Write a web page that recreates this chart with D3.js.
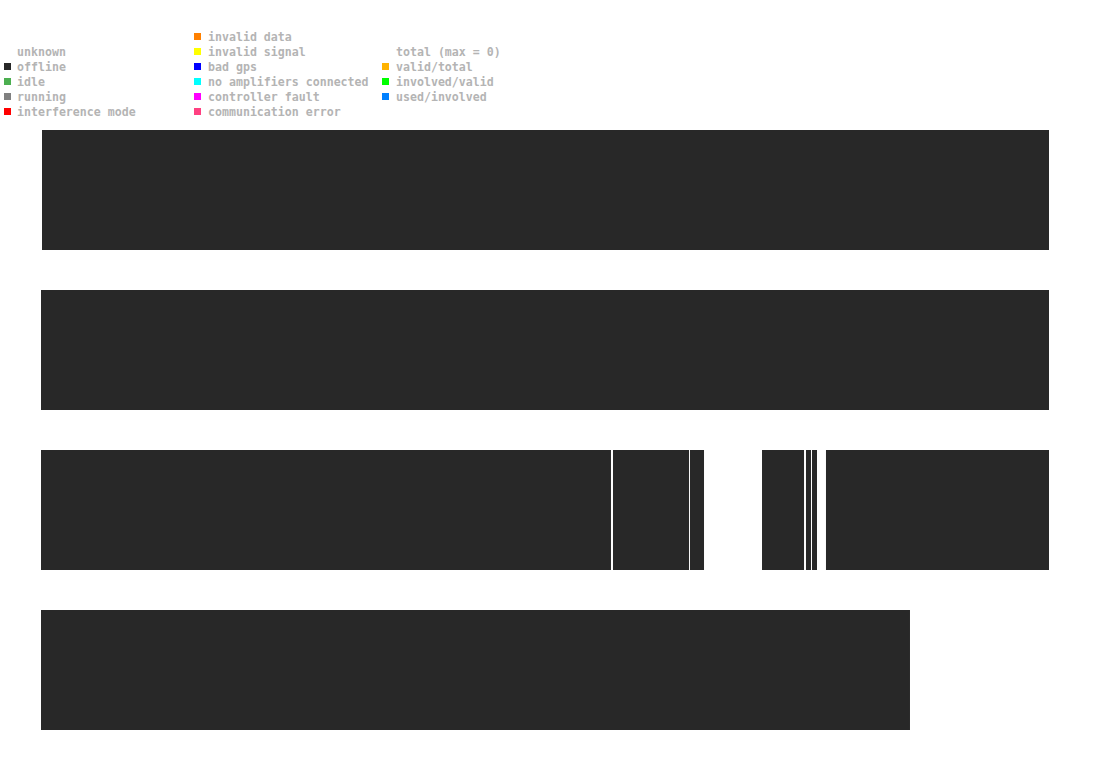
<!DOCTYPE html>
<html><head><meta charset="utf-8">
<script src="https://cdn.jsdelivr.net/npm/d3@7"></script>
<style>body{margin:0;background:#fff}</style>
</head><body>
<svg id="c" width="1095" height="764"></svg>
<script>
// legend entries
const legendCol1 = [
  {label: "unknown", color: null},
  {label: "offline", color: "#282828"},
  {label: "idle", color: "#4caf50"},
  {label: "running", color: "#808080"},
  {label: "interference mode", color: "#ff0000"}
];
const legendCol2 = [
  {label: "invalid data", color: "#ff8000"},
  {label: "invalid signal", color: "#ffff00"},
  {label: "bad gps", color: "#0000ff"},
  {label: "no amplifiers connected", color: "#00ffff"},
  {label: "controller fault", color: "#ff00ff"},
  {label: "communication error", color: "#ff4081"}
];
const legendCol3 = [
  {label: "total (max = 0)", color: null},
  {label: "valid/total", color: "#ffb300"},
  {label: "involved/valid", color: "#00ff00"},
  {label: "used/involved", color: "#0080ff"}
];
// status rows: segments [start hour, end hour, status]
const rows = ["station1", "station2", "station3", "station4"];
const segments = [
  [0, 0.024, 24.0, "offline"],
  [1, 0.0, 24.0, "offline"],
  [2, 0.0, 13.571, "offline"],
  [2, 13.619, 15.429, "offline"],
  [2, 15.452, 15.786, "offline"],
  [2, 17.167, 18.167, "offline"],
  [2, 18.214, 18.333, "offline"],
  [2, 18.357, 18.476, "offline"],
  [2, 18.690, 24.0, "offline"],
  [3, 0.0, 20.690, "offline"]
];
const statusColor = {offline: "#282828"};

const svg = d3.select("#c");
const x = d3.scaleLinear().domain([0, 24]).range([41, 1049]);
const y = d3.scaleBand().domain(d3.range(rows.length)).range([130, 770]).paddingInner(0.25).paddingOuter(0).align(0);
// band = 120, step = 160
const yb = d3.scaleLinear().domain([0, 1]).range([130, 290]);

svg.append("g").selectAll("rect").data(segments).join("rect")
  .attr("x", d => x(d[1]))
  .attr("width", d => x(d[2]) - x(d[1]))
  .attr("y", d => yb(d[0]))
  .attr("height", yb(0.75) - yb(0))
  .attr("fill", d => statusColor[d[3]]);

function legend(items, sx, tx, y0) {
  const g = svg.append("g");
  items.forEach((it, i) => {
    const cy = y0 + i * 15;
    if (it.color) g.append("rect").attr("x", sx).attr("y", cy - 4).attr("width", 7).attr("height", 7).attr("fill", it.color);
    g.append("text").attr("x", tx).attr("y", cy + 4)
      .attr("font-family", "DejaVu Sans Mono, monospace").attr("font-weight", "bold")
      .attr("font-size", "11.6px").attr("fill", "#b4b4b4").text(it.label);
  });
}
legend(legendCol1, 4, 17, 52);
legend(legendCol2, 194, 208, 37);
legend(legendCol3, 382, 396, 52);
</script>
</body></html>
